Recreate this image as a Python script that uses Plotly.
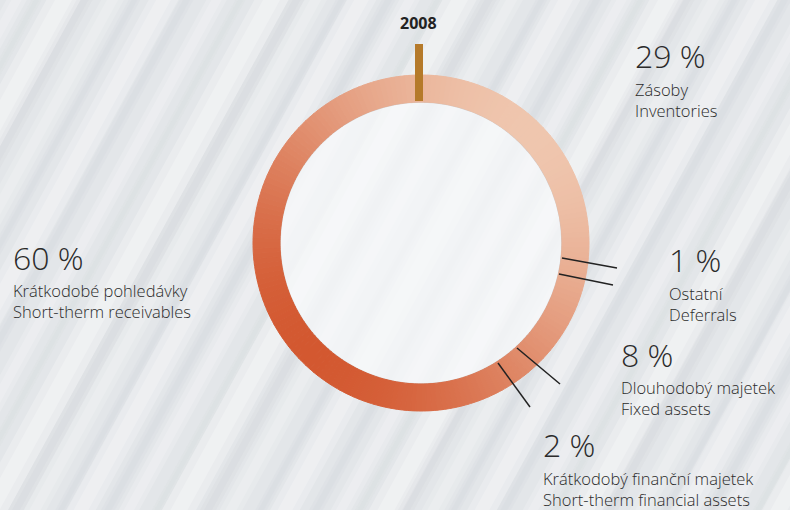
import math
import plotly.graph_objects as go

# ---------------- data ----------------
year = "2008"
labels_cz = ["Zásoby", "Ostatní", "Dlouhodobý majetek",
             "Krátkodobý finanční majetek", "Krátkodobé pohledávky"]
labels_en = ["Inventories", "Deferrals", "Fixed assets",
             "Short-therm financial assets", "Short-therm receivables"]
shares = [29, 1, 8, 2, 60]
pct_labels = ["29 %", "1 %", "8 %", "2 %", "60 %"]

# ---------------- geometry / style ----------------
W, H = 790, 510
CX, CY = 421, 243
R_OUT, R_IN = 168, 141
LIGHT = (239, 198, 174)
DARK = (211, 88, 48)
TEXT = "#2b2b2b"
FONT = "Open Sans"


def px(x):
    return x / W


def py(y):
    return 1 - y / H


def grad_color(angle_deg):
    a = math.radians(angle_deg)
    s = (math.sin(a) + math.cos(a)) / math.sqrt(2)  # +1 towards top-right
    t = (1 - s) / 2
    c = [round(LIGHT[k] + (DARK[k] - LIGHT[k]) * t) for k in range(3)]
    return "rgb(%d,%d,%d)" % tuple(c)


# split every share into thin pieces so the ring can carry a smooth gradient
vals, cols, names = [], [], []
total = float(sum(shares))
acc = 0.0
for i, v in enumerate(shares):
    n = max(1, int(round(v * 2)))
    piece = v / n
    for j in range(n):
        mid = (acc + piece / 2) / total * 360
        vals.append(piece)
        cols.append(grad_color(mid))
        names.append(labels_cz[i] + " / " + labels_en[i])
        acc += piece

fig = go.Figure()
fig.add_trace(go.Pie(
    values=vals,
    labels=[f"{nm}#{k}" for k, nm in enumerate(names)],
    hovertext=names,
    hoverinfo="text",
    sort=False,
    direction="clockwise",
    rotation=0,
    hole=R_IN / R_OUT,
    textinfo="none",
    showlegend=False,
    marker=dict(colors=cols, line=dict(color=cols, width=1)),
    domain=dict(x=[px(CX - R_OUT), px(CX + R_OUT)],
                y=[py(CY + R_OUT), py(CY - R_OUT)]),
))

shapes = []
# soft striped background texture
stripe_w = [26, 12, 18, 9, 30, 14, 20, 10]
stripe_c = ["rgba(255,255,255,0.22)", "rgba(200,205,212,0.14)",
            "rgba(255,255,255,0.18)", "rgba(205,210,216,0.12)",
            "rgba(255,255,255,0.25)", "rgba(195,200,208,0.12)",
            "rgba(255,255,255,0.16)", "rgba(200,205,212,0.14)"]
k = 0
x0 = -320
while x0 < W + 20:
    for f in (1.0, 0.5):
        shapes.append(dict(type="line", xref="paper", yref="paper",
                           x0=px(x0), y0=py(H + 20), x1=px(x0 + 0.55 * (H + 40)), y1=py(-20),
                           line=dict(color=stripe_c[k % 8], width=stripe_w[k % 8] * f),
                           layer="below"))
    x0 += 19 + (k * 7) % 13
    k += 1

# light inner disc
shapes.append(dict(type="circle", xref="paper", yref="paper",
                   x0=px(CX - R_IN), x1=px(CX + R_IN),
                   y0=py(CY + R_IN), y1=py(CY - R_IN),
                   fillcolor="rgba(248,249,251,0.72)",
                   line=dict(color="rgba(190,175,170,0.6)", width=1.5),
                   layer="below"))

# year marker bar
shapes.append(dict(type="rect", xref="paper", yref="paper",
                   x0=px(415), x1=px(423), y0=py(101), y1=py(44),
                   fillcolor="#B57A2A", line=dict(width=0), layer="above"))

# leader lines
for (a, b, c, d) in [(562, 258, 617, 268), (559, 274, 613, 285),
                     (517, 348, 560, 384), (498, 363, 530, 407)]:
    shapes.append(dict(type="line", xref="paper", yref="paper",
                       x0=px(a), y0=py(b), x1=px(c), y1=py(d),
                       line=dict(color="#222222", width=1.5), layer="above"))

ann = []
ann.append(dict(text="<b>" + year + "</b>", x=px(418), y=py(23),
                xref="paper", yref="paper", showarrow=False,
                xanchor="center", yanchor="middle",
                font=dict(family=FONT, size=16, color="#222222")))

# label blocks: (left x, pct center y, two-line label center y)
blocks = [(633, 55, 100.5), (667, 259, 304), (619, 354, 397.5),
          (541, 444, 488.5), (11, 257, 300.5)]
for i, (lx, yp, yl) in enumerate(blocks):
    ann.append(dict(text=pct_labels[i], x=px(lx), y=py(yp), xref="paper", yref="paper",
                    showarrow=False, xanchor="left", yanchor="middle",
                    font=dict(family=FONT, size=32, color=TEXT, weight=300)))
    ann.append(dict(text=labels_cz[i] + "<br>" + labels_en[i],
                    x=px(lx), y=py(yl), xref="paper", yref="paper",
                    showarrow=False, xanchor="left", yanchor="middle", align="left",
                    font=dict(family=FONT, size=16.5, color=TEXT, weight=300)))

fig.update_layout(
    width=W, height=H,
    margin=dict(l=0, r=0, t=0, b=0),
    paper_bgcolor="#E3E6E9",
    plot_bgcolor="#E3E6E9",
    shapes=shapes,
    annotations=ann,
    showlegend=False,
)

fig.write_html("out.html",
               config={"displayModeBar": False},
               post_script="document.body.style.margin='0';"
                           "document.body.style.padding='0';"
                           "document.body.style.overflow='hidden';")
